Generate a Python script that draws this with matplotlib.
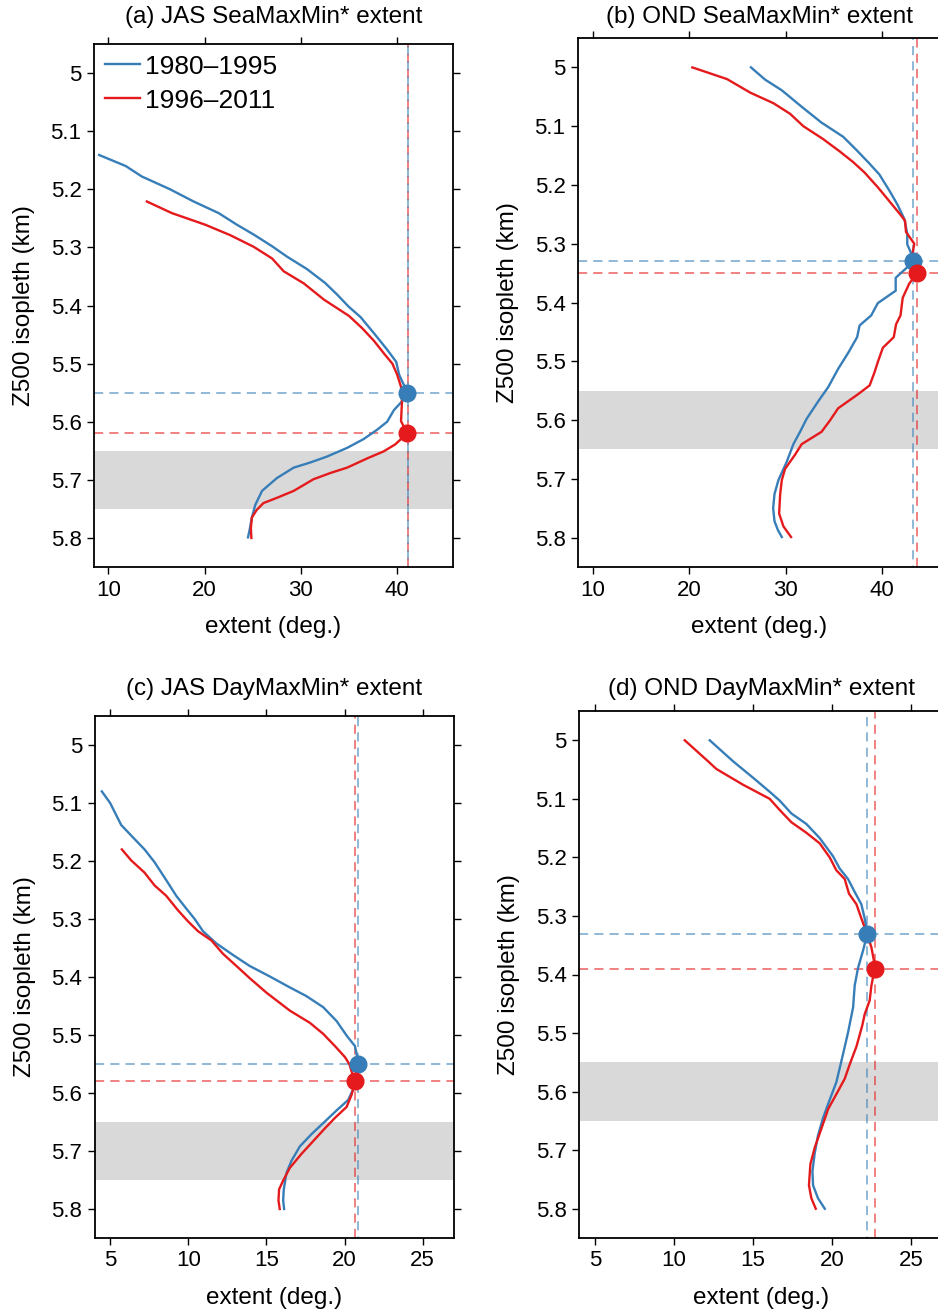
import matplotlib
matplotlib.use("Agg")
import matplotlib.pyplot as plt
from matplotlib.ticker import FuncFormatter

plt.rcParams['font.family'] = ['Liberation Sans', 'DejaVu Sans']

BLUE = '#377eb8'
RED = '#e41a1c'
BAND = '#d9d9d9'

titles = ["(a) JAS SeaMaxMin* extent", "(b) OND SeaMaxMin* extent",
          "(c) JAS DayMaxMin* extent", "(d) OND DayMaxMin* extent"]
legend_labels = ["1980\u20131995", "1996\u20132011"]

# ---- panel (a) ----
a_blue_y = [5.141, 5.16, 5.178, 5.20, 5.221, 5.241, 5.261, 5.278, 5.298, 5.316, 5.337, 5.361, 5.381,
            5.402, 5.42, 5.448, 5.476, 5.497, 5.519, 5.537, 5.551, 5.565, 5.58, 5.60, 5.614, 5.63,
            5.645, 5.66, 5.67, 5.679, 5.697, 5.719, 5.743, 5.765, 5.786, 5.799]
a_blue_x = [9.03, 11.8, 13.47, 16.4, 18.85, 21.45, 23.35, 25.1, 27.0, 28.56, 30.6, 32.5, 33.75,
            34.96, 36.2, 37.6, 38.96, 39.9, 40.2, 40.7, 41.0, 40.5, 39.66, 38.96, 37.9, 36.5,
            34.8, 32.7, 31.0, 29.25, 27.5, 25.96, 25.26, 24.9, 24.67, 24.5]
a_red_y = [5.221, 5.241, 5.261, 5.279, 5.299, 5.319, 5.341, 5.362, 5.39, 5.418, 5.439, 5.461, 5.482,
           5.50, 5.519, 5.54, 5.565, 5.599, 5.62, 5.639, 5.651, 5.663, 5.679, 5.688, 5.699, 5.719,
           5.731, 5.74, 5.752, 5.765, 5.783, 5.80]
a_red_x = [13.99, 16.59, 20.06, 22.66, 25.09, 27.0, 28.2, 30.3, 32.4, 35.0, 36.36, 37.6, 38.6,
           39.5, 40.0, 40.4, 40.5, 40.4, 41.04, 39.8, 38.6, 36.9, 34.8, 33.1, 31.3, 29.25,
           27.5, 26.1, 25.4, 24.9, 24.8, 24.85]
a_peak_blue = (41.0, 5.55)
a_peak_red = (41.04, 5.62)
a_vline = (41.1, 41.1)

# ---- panel (b) ----
b_blue_y = [5.0, 5.021, 5.039, 5.067, 5.094, 5.118, 5.14, 5.164, 5.182, 5.21, 5.234, 5.258, 5.283,
            5.301, 5.316, 5.33, 5.34, 5.358, 5.38, 5.401, 5.422, 5.439, 5.459, 5.486, 5.513, 5.544,
            5.568, 5.598, 5.62, 5.641, 5.671, 5.702, 5.726, 5.75, 5.772, 5.787, 5.799]
b_blue_x = [26.39, 27.87, 29.59, 31.65, 33.71, 35.95, 37.3, 38.7, 39.7, 40.76, 41.6, 42.3, 42.6,
            42.6, 43.0, 43.23, 42.6, 41.4, 41.4, 39.55, 38.86, 37.66, 37.4, 36.46, 35.43, 34.4,
            33.37, 32.16, 31.48, 30.79, 30.1, 29.24, 28.83, 28.69, 28.83, 29.18, 29.59]
b_red_y = [5.0, 5.02, 5.043, 5.061, 5.079, 5.10, 5.122, 5.143, 5.161, 5.179, 5.204, 5.228, 5.252,
           5.261, 5.28, 5.30, 5.316, 5.351, 5.368, 5.392, 5.422, 5.437, 5.459, 5.477, 5.501, 5.519,
           5.541, 5.556, 5.58, 5.601, 5.62, 5.641, 5.659, 5.683, 5.702, 5.726, 5.759, 5.781, 5.799]
b_red_x = [20.31, 23.92, 26.32, 28.73, 30.45, 31.82, 33.88, 35.6, 36.98, 38.18, 39.55, 40.76, 41.96,
           42.37, 42.47, 43.33, 43.16, 43.57, 42.8, 42.13, 41.9, 41.44, 41.2, 40.07, 39.55, 39.2,
           38.7, 37.5, 35.43, 34.57, 33.71, 31.65, 30.96, 29.93, 29.59, 29.42, 29.31, 29.76, 30.55]
b_peak_blue = (43.23, 5.33)
b_peak_red = (43.57, 5.35)
b_vline = (43.23, 43.57)

# ---- panel (c) ----
c_blue_y = [5.08, 5.10, 5.138, 5.159, 5.18, 5.202, 5.233, 5.26, 5.282, 5.30, 5.321, 5.342, 5.362,
            5.381, 5.399, 5.418, 5.433, 5.452, 5.476, 5.501, 5.519, 5.532, 5.55, 5.593, 5.612,
            5.63, 5.652, 5.671, 5.692, 5.717, 5.738, 5.766, 5.785, 5.80]
c_blue_x = [4.47, 5.0, 5.71, 6.45, 7.2, 7.84, 8.59, 9.23, 9.87, 10.41, 10.94, 11.79, 12.86,
            13.93, 15.21, 16.5, 17.56, 18.63, 19.49, 20.13, 20.66, 20.77, 20.83, 20.56, 20.23,
            19.49, 18.63, 17.88, 17.14, 16.6, 16.28, 16.11, 16.07, 16.13]
c_red_y = [5.18, 5.199, 5.22, 5.242, 5.26, 5.285, 5.304, 5.321, 5.337, 5.36, 5.381, 5.402, 5.427,
           5.458, 5.479, 5.498, 5.519, 5.538, 5.55, 5.581, 5.603, 5.624, 5.643, 5.661, 5.683,
           5.705, 5.729, 5.751, 5.766, 5.785, 5.80]
c_red_x = [5.75, 6.35, 7.2, 7.84, 8.59, 9.34, 9.98, 10.62, 11.48, 12.22, 13.08, 13.93, 15.0,
           16.5, 17.78, 18.63, 19.38, 20.02, 20.3, 20.66, 20.45, 20.13, 19.38, 18.74, 17.99,
           17.24, 16.5, 16.07, 15.81, 15.77, 15.85]
c_peak_blue = (20.83, 5.55)
c_peak_red = (20.66, 5.58)
c_vline = (20.83, 20.68)

# ---- panel (d) ----
d_blue_y = [5.0, 5.036, 5.064, 5.088, 5.103, 5.125, 5.143, 5.167, 5.198, 5.219, 5.237, 5.259, 5.28,
            5.304, 5.33, 5.359, 5.389, 5.419, 5.456, 5.499, 5.541, 5.584, 5.614, 5.645, 5.675,
            5.706, 5.736, 5.76, 5.782, 5.80]
d_blue_x = [12.26, 13.74, 15.0, 16.05, 16.68, 17.42, 18.37, 19.21, 20.05, 20.47, 21.0, 21.42, 21.84,
            22.05, 22.22, 21.95, 21.63, 21.42, 21.32, 21.0, 20.64, 20.26, 19.84, 19.42, 19.1,
            18.89, 18.75, 18.79, 19.1, 19.53]
d_red_y = [5.0, 5.036, 5.049, 5.076, 5.10, 5.119, 5.14, 5.158, 5.176, 5.20, 5.222, 5.237, 5.262,
           5.28, 5.304, 5.328, 5.353, 5.374, 5.39, 5.42, 5.444, 5.468, 5.487, 5.523, 5.554, 5.578,
           5.599, 5.63, 5.663, 5.696, 5.724, 5.76, 5.782, 5.80]
d_red_x = [10.68, 12.16, 12.68, 14.37, 16.05, 16.68, 17.42, 18.37, 19.21, 19.84, 20.26, 20.79, 21.06,
           21.53, 21.84, 22.16, 22.47, 22.62, 22.68, 22.47, 22.37, 22.05, 21.9, 21.53, 21.1, 20.79,
           20.37, 19.74, 19.32, 18.89, 18.62, 18.53, 18.68, 18.96]
d_peak_blue = (22.22, 5.33)
d_peak_red = (22.68, 5.39)
d_vline = (22.22, 22.68)

bands = [(5.65, 5.75), (5.55, 5.65), (5.65, 5.75), (5.55, 5.65)]
yticks = [5.0, 5.1, 5.2, 5.3, 5.4, 5.5, 5.6, 5.7, 5.8]
xticks_sea = [10, 20, 30, 40]
xticks_day = [5, 10, 15, 20, 25]

W, H = 938, 1311
fig = plt.figure(figsize=(W / 100, H / 100), dpi=100)

def rect(l, t, r, b):
    return [l / W, 1 - b / H, (r - l) / W, (b - t) / H]

positions = [rect(94, 44, 453, 567), rect(578, 38, 941, 567),
             rect(94.5, 716, 454, 1238), rect(579, 711, 943, 1238)]
title_y = [17, 17, 689, 689]
xlims = [(8.5, 45.8), (8.45, 46.1), (4.0, 27.0), (4.0, 27.0)]
ylims = [(5.85, 4.95), (5.85, 4.95), (5.85, 4.95), (5.85, 4.95)]

panels = [
    (a_blue_x, a_blue_y, a_red_x, a_red_y, a_peak_blue, a_peak_red, a_vline, xticks_sea),
    (b_blue_x, b_blue_y, b_red_x, b_red_y, b_peak_blue, b_peak_red, b_vline, xticks_sea),
    (c_blue_x, c_blue_y, c_red_x, c_red_y, c_peak_blue, c_peak_red, c_vline, xticks_day),
    (d_blue_x, d_blue_y, d_red_x, d_red_y, d_peak_blue, d_peak_red, d_vline, xticks_day),
]

for i, (bx, by, rx, ry, pb, pr, vl, xt) in enumerate(panels):
    pos = positions[i]
    ax = fig.add_axes(pos)
    ax.axhspan(bands[i][0], bands[i][1], color=BAND, lw=0, zorder=0)
    ax.axhline(pb[1], color=BLUE, ls=(0, (6, 4)), lw=1.1, alpha=0.7, zorder=1)
    ax.axhline(pr[1], color=RED, ls=(0, (6, 4)), lw=1.1, alpha=0.7, zorder=1)
    ax.axvline(vl[1], color=RED, ls=(0, (6, 4)), lw=1.1, alpha=0.7, zorder=1)
    ax.axvline(vl[0], color=BLUE, ls=(5, (6, 4)), lw=1.1, alpha=0.7, zorder=1)
    l1, = ax.plot(bx, by, color=BLUE, lw=1.7, zorder=3)
    l2, = ax.plot(rx, ry, color=RED, lw=1.7, zorder=3)
    ax.plot([pb[0]], [pb[1]], 'o', color=BLUE, ms=12, zorder=4)
    ax.plot([pr[0]], [pr[1]], 'o', color=RED, ms=12, zorder=4)
    ax.set_xlim(*xlims[i])
    ax.set_ylim(*ylims[i])
    ax.set_xticks(xt)
    ax.set_yticks(yticks)
    ax.yaxis.set_major_formatter(FuncFormatter(lambda v, p: f"{v:g}"))
    ax.tick_params(direction='out', length=5, width=1, labelsize=16,
                   top=True, right=True, labeltop=False, labelright=False, pad=4)
    for s in ax.spines.values():
        s.set_linewidth(1.3)
    cx = (pos[0] + pos[2] / 2)
    fig.text(cx, 1 - title_y[i] / H, titles[i], fontsize=17.5, ha='center', va='center')
    ax.set_xlabel("extent (deg.)", fontsize=17.5, labelpad=11)
    ax.set_ylabel("Z500 isopleth (km)", fontsize=17.5, labelpad=11)
    if i == 0:
        ax.legend([l1, l2], legend_labels, loc='upper left', frameon=False, fontsize=19,
                  handlelength=1.33, handletextpad=0.22, borderaxespad=0.0, borderpad=0.4,
                  labelspacing=0.38)

fig.savefig("out.png", dpi=100)
